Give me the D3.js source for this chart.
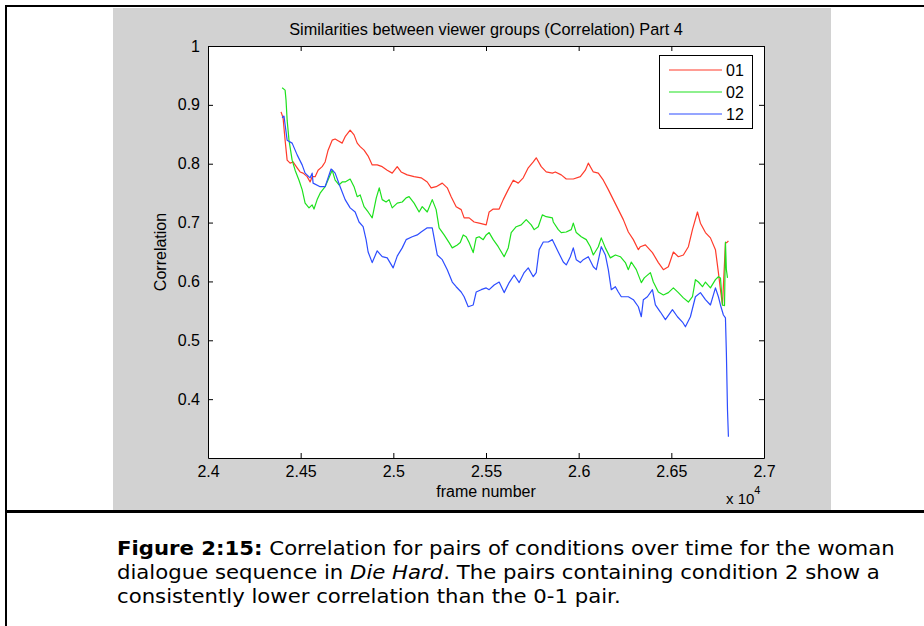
<!DOCTYPE html>
<html>
<head>
<meta charset="utf-8">
<script src="https://cdn.jsdelivr.net/npm/d3@7"></script>
<style>
  body { margin: 0; background: #fff; }
  svg text { font-family: "Liberation Sans", Arial, sans-serif; fill: #000; }
  .axis text { font-size: 16px; }
  .caption text { font-family: "DejaVu Sans", Verdana, sans-serif; font-size: 20px; }
</style>
</head>
<body>
<div id="main"></div>
<script>
// pair 0-1 (red)
const frames01 = [24394,24405,24416,24427,24443,24459,24481,24497,24513,24535,24551,24562,24578,24594,24616,24632,24648,24670,24686,24702,
  24724,24740,24767,24788,24805,24821,24842,24864,24886,24913,24940,24967,24994,25021,25042,25075,25112,25150,25183,25204,
  25231,25264,25291,25312,25339,25366,25382,25409,25436,25463,25501,25517,25539,25571,25593,25620,25647,25674,25701,25728,
  25755,25771,25798,25825,25858,25874,25906,25933,25971,26009,26036,26052,26079,26106,26133,26160,26187,26214,26241,26268,
  26295,26322,26333,26360,26398,26430,26457,26484,26511,26538,26565,26592,26614,26641,26657,26684,26711,26738,26754,26765,
  26776,26792,26803,26808];
const corr01 = [0.888,0.878,0.840,0.806,0.801,0.803,0.793,0.786,0.784,0.778,0.769,0.778,0.778,0.789,0.795,0.803,0.823,0.840,0.842,0.839,
  0.835,0.846,0.857,0.849,0.835,0.829,0.823,0.813,0.798,0.798,0.795,0.789,0.784,0.795,0.786,0.781,0.778,0.776,0.769,0.759,
  0.761,0.767,0.759,0.744,0.727,0.722,0.708,0.708,0.701,0.699,0.696,0.718,0.723,0.723,0.739,0.756,0.772,0.767,0.776,0.793,
  0.803,0.810,0.795,0.786,0.784,0.786,0.781,0.774,0.774,0.778,0.789,0.801,0.786,0.784,0.772,0.756,0.739,0.722,0.705,0.684,
  0.671,0.654,0.659,0.662,0.649,0.632,0.620,0.625,0.650,0.642,0.645,0.659,0.688,0.718,0.699,0.683,0.674,0.654,0.615,0.586,
  0.560,0.665,0.667,0.669];

// pair 0-2 (green)
const frames02 = [24400,24416,24421,24427,24437,24454,24470,24491,24508,24524,24545,24562,24572,24589,24605,24632,24659,24670,24686,24707,
  24724,24740,24767,24788,24805,24821,24842,24864,24886,24908,24924,24940,24961,24977,24994,25021,25048,25069,25085,25112,
  25139,25156,25183,25210,25231,25247,25274,25301,25318,25345,25361,25377,25393,25409,25431,25447,25463,25485,25501,25517,
  25539,25566,25598,25620,25636,25663,25690,25717,25744,25760,25782,25804,25825,25858,25863,25890,25906,25933,25960,25971,
  25987,26014,26041,26063,26079,26106,26122,26144,26171,26198,26225,26252,26268,26284,26311,26338,26354,26387,26403,26430,
  26457,26484,26511,26538,26565,26592,26614,26630,26646,26668,26684,26711,26738,26754,26765,26776,26787,26792,26797,26803];
const corr02 = [0.929,0.925,0.908,0.874,0.840,0.806,0.789,0.772,0.756,0.733,0.725,0.730,0.723,0.739,0.750,0.761,0.781,0.789,0.772,0.764,
  0.769,0.769,0.774,0.761,0.744,0.747,0.727,0.718,0.708,0.742,0.759,0.739,0.735,0.739,0.725,0.733,0.735,0.742,0.744,0.733,
  0.718,0.727,0.718,0.739,0.722,0.691,0.679,0.666,0.657,0.662,0.666,0.679,0.676,0.666,0.649,0.674,0.676,0.671,0.679,0.683,
  0.671,0.659,0.642,0.657,0.683,0.693,0.696,0.705,0.696,0.688,0.693,0.713,0.710,0.708,0.701,0.688,0.683,0.684,0.688,0.699,
  0.683,0.676,0.671,0.659,0.645,0.659,0.674,0.657,0.640,0.645,0.642,0.632,0.620,0.633,0.620,0.598,0.606,0.615,0.599,0.582,
  0.577,0.581,0.589,0.581,0.572,0.565,0.574,0.603,0.599,0.591,0.599,0.589,0.603,0.608,0.606,0.560,0.559,0.667,0.620,0.606];

// pair 1-2 (blue)
const frames12 = [24400,24410,24427,24454,24481,24508,24524,24551,24562,24567,24605,24632,24664,24675,24686,24713,24740,24767,24794,24815,
  24837,24853,24864,24886,24913,24940,24967,24999,25021,25048,25069,25102,25129,25150,25183,25210,25237,25264,25291,25318,
  25339,25366,25382,25404,25431,25447,25474,25501,25517,25544,25571,25598,25625,25652,25679,25706,25728,25755,25771,25787,
  25809,25836,25858,25890,25917,25933,25955,25971,25987,26009,26025,26052,26079,26095,26122,26144,26160,26176,26198,26214,
  26230,26268,26295,26322,26338,26349,26371,26398,26414,26441,26468,26506,26533,26560,26576,26603,26630,26657,26684,26711,
  26738,26754,26765,26781,26792,26797,26803,26808];
const corr12 = [0.878,0.881,0.840,0.835,0.815,0.798,0.784,0.776,0.784,0.767,0.761,0.761,0.791,0.788,0.784,0.761,0.739,0.725,0.718,0.701,
  0.693,0.671,0.650,0.632,0.652,0.642,0.640,0.623,0.643,0.657,0.671,0.676,0.679,0.684,0.691,0.691,0.645,0.637,0.620,0.599,
  0.591,0.582,0.574,0.557,0.560,0.582,0.586,0.589,0.586,0.594,0.599,0.581,0.598,0.611,0.598,0.615,0.623,0.608,0.615,0.654,
  0.667,0.667,0.671,0.650,0.633,0.628,0.642,0.657,0.637,0.632,0.637,0.642,0.625,0.620,0.659,0.645,0.620,0.586,0.591,0.582,
  0.574,0.574,0.569,0.557,0.540,0.569,0.574,0.586,0.560,0.548,0.535,0.552,0.540,0.531,0.523,0.540,0.574,0.581,0.569,0.560,
  0.589,0.574,0.560,0.543,0.538,0.479,0.382,0.336];

const seriesLabels = ["01", "02", "12"];
const seriesColors = ["#ff3b2b", "#1ee11e", "#2d4dff"];
const xTickValues = [24000, 24500, 25000, 25500, 26000, 26500, 27000];
const yTickValues = [0.4, 0.5, 0.6, 0.7, 0.8, 0.9, 1];
const chartTitle = "Similarities between viewer groups (Correlation) Part 4";
const xLabel = "frame number";
const yLabel = "Correlation";
// caption pieces: [text, style]
const captionLines = [
  [["Figure 2:15:", "bold"], [" Correlation for pairs of conditions over time for the woman", ""]],
  [["dialogue sequence in ", ""], ["Die Hard", "italic"], [". The pairs containing condition 2 show a", ""]],
  [["consistently lower correlation than the 0-1 pair.", ""]]
];

const ctx = {
  width: 924,
  height: 626,
  plot: {left: 208, top: 46, right: 764, bottom: 458},
  panel: {left: 113, top: 8, right: 831, bottom: 510},
  tickLen: 5
};

function createViz() {
  const svg = d3.select("#main").append("svg")
    .attr("width", ctx.width)
    .attr("height", ctx.height);
  const p = ctx.plot;

  // page frame + grey figure panel
  svg.append("rect").attr("x", ctx.panel.left).attr("y", ctx.panel.top)
    .attr("width", ctx.panel.right - ctx.panel.left).attr("height", ctx.panel.bottom - ctx.panel.top)
    .attr("fill", "#d2d2d2");
  svg.append("rect").attr("x", 5).attr("y", 5).attr("width", ctx.width - 5).attr("height", 2).attr("fill", "#000");
  svg.append("rect").attr("x", 5).attr("y", 5).attr("width", 2).attr("height", ctx.height - 5).attr("fill", "#000");
  svg.append("rect").attr("x", 5).attr("y", 510).attr("width", ctx.width - 5).attr("height", 3).attr("fill", "#000");

  // white axes area
  svg.append("rect").attr("x", p.left).attr("y", p.top)
    .attr("width", p.right - p.left).attr("height", p.bottom - p.top)
    .attr("fill", "#fff");

  const x = d3.scaleLinear().domain([24000, 27000]).range([p.left, p.right]);
  const y = d3.scaleLinear().domain([0.3, 1]).range([p.bottom, p.top]);

  const xFmt = d => String(+(d / 1e4).toFixed(2));

  // lines
  const line = d3.line().x(d => x(d[0])).y(d => y(d[1]));
  const series = [
    d3.zip(frames01, corr01),
    d3.zip(frames02, corr02),
    d3.zip(frames12, corr12)
  ];
  svg.append("g").selectAll("path")
    .data(series)
    .enter().append("path")
    .attr("d", line)
    .attr("fill", "none")
    .attr("stroke", (d, i) => seriesColors[i])
    .attr("stroke-width", 1.2)
    .attr("stroke-linejoin", "round");

  // axes, MATLAB style ticks pointing inwards on all four sides
  svg.append("g").attr("class", "axis")
    .attr("transform", `translate(0,${p.bottom})`)
    .call(d3.axisBottom(x).tickValues(xTickValues).tickSize(-ctx.tickLen).tickSizeOuter(0)
      .tickPadding(8).tickFormat(xFmt));
  svg.append("g").attr("class", "axis")
    .attr("transform", `translate(0,${p.top})`)
    .call(d3.axisTop(x).tickValues(xTickValues).tickSize(-ctx.tickLen).tickSizeOuter(0).tickFormat(""));
  svg.append("g").attr("class", "axis")
    .attr("transform", `translate(${p.left},0)`)
    .call(d3.axisLeft(y).tickValues(yTickValues).tickSize(-ctx.tickLen).tickSizeOuter(0)
      .tickPadding(8).tickFormat(d3.format("~g")));
  svg.append("g").attr("class", "axis")
    .attr("transform", `translate(${p.right},0)`)
    .call(d3.axisRight(y).tickValues(yTickValues).tickSize(-ctx.tickLen).tickSizeOuter(0).tickFormat(""));
  svg.selectAll(".axis path, .axis line").attr("stroke", "#000");

  // titles
  svg.append("text").attr("x", (p.left + p.right) / 2).attr("y", 35)
    .attr("text-anchor", "middle").style("font-size", "16.3px").text(chartTitle);
  svg.append("text").attr("x", (p.left + p.right) / 2).attr("y", 497)
    .attr("text-anchor", "middle").style("font-size", "16px").text(xLabel);
  svg.append("text")
    .attr("transform", `translate(166,${(p.top + p.bottom) / 2}) rotate(-90)`)
    .attr("text-anchor", "middle").style("font-size", "16px").text(yLabel);
  const expo = svg.append("text").attr("x", 726).attr("y", 504).style("font-size", "15px");
  expo.append("tspan").text("x 10");
  expo.append("tspan").attr("dy", -10).style("font-size", "11px").text("4");

  // legend
  const legend = svg.append("g").attr("class", "legend");
  legend.append("rect").attr("x", 659.5).attr("y", 55.5).attr("width", 93).attr("height", 73)
    .attr("fill", "#fff").attr("stroke", "#000");
  const item = legend.selectAll(".item")
    .data(seriesLabels)
    .enter().append("g")
    .attr("transform", (d, i) => `translate(0,${70 + i * 22})`);
  item.append("line").attr("x1", 669).attr("x2", 722)
    .attr("stroke", (d, i) => seriesColors[i]).attr("stroke-width", 1.2);
  item.append("text").attr("x", 726).attr("dy", "0.36em").style("font-size", "16px").text(d => d);

  // figure caption
  const cap = svg.append("g").attr("class", "caption")
    .attr("transform", "translate(117,0) scale(1.062,1)");
  captionLines.forEach((parts, i) => {
    const t = cap.append("text").attr("x", 0).attr("y", 555 + i * 24);
    parts.forEach(([txt, style]) => {
      const s = t.append("tspan").text(txt);
      if (style === "bold") s.style("font-weight", "bold");
      if (style === "italic") s.style("font-style", "italic");
    });
  });
}

createViz();
</script>
</body>
</html>
